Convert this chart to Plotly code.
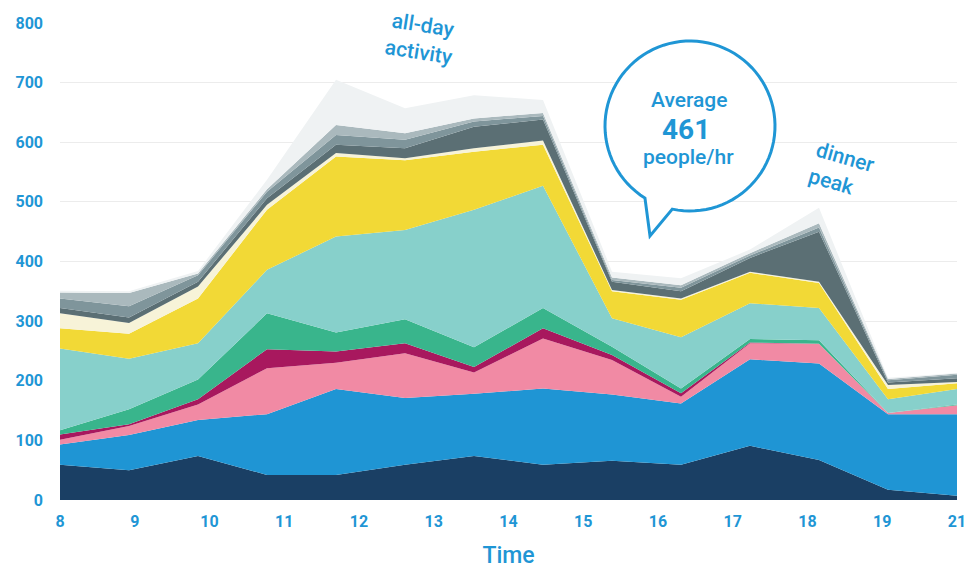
import numpy as np
import plotly.graph_objects as go

# ---- data ----
tick_labels = ["8", "9", "10", "11", "12", "13", "14", "15", "16", "17", "18", "19", "21"]
n_samples = 14
x_pos = list(np.linspace(0, len(tick_labels) - 1, n_samples))

layer_names = ["navy", "blue", "pink", "magenta", "green", "teal", "yellow",
               "cream", "slate", "grey", "lightgrey", "halo"]
navy      = [59, 50, 74, 42, 42, 59, 74, 59, 66, 59, 91, 67, 17, 7]
blue      = [34, 59, 60, 102, 144, 112, 104, 128, 111, 103, 145, 162, 127, 137]
pink      = [8, 15, 26, 77, 44, 75, 36, 84, 58, 11, 27, 33, 2, 15]
magenta   = [9, 3, 9, 32, 19, 17, 9, 17, 8, 6, 1, 0, 0, 0]
green     = [7, 25, 33, 60, 32, 40, 33, 34, 14, 8, 6, 6, 0, 1]
teal      = [137, 85, 61, 73, 161, 150, 231, 205, 48, 86, 60, 54, 23, 26]
yellow    = [34, 42, 75, 101, 134, 117, 97, 69, 45, 63, 51, 42, 17, 10]
cream     = [25, 18, 20, 8, 6, 3, 6, 7, 2, 2, 2, 2, 7, 2]
slate     = [9, 9, 8, 11, 14, 17, 36, 35, 14, 12, 23, 84, 4, 6]
grey      = [16, 19, 11, 11, 16, 14, 9, 6, 3, 6, 4, 7, 4, 6]
lightgrey = [10, 22, 3, 4, 17, 11, 5, 5, 4, 4, 4, 7, 2, 2]
halo      = [3, 3, 4, 16, 76, 42, 39, 22, 10, 12, 6, 26, 2, 1]

series = [navy, blue, pink, magenta, green, teal, yellow, cream, slate, grey, lightgrey, halo]
colors = ["#1a3f64", "#1f95d4", "#f18aa4", "#a8185e", "#39b58c", "#87d0cb", "#f2d936",
          "#f7f3d8", "#5b6f74", "#7f959b", "#aab9bd", "#eff2f3"]

BLUE_TXT = "#1f96d5"
FONT = "Roboto"

fig = go.Figure()
for name, vals, col in zip(layer_names, series, colors):
    fig.add_trace(go.Scatter(
        x=x_pos, y=vals, name=name, stackgroup="one", mode="none",
        fillcolor=col, line=dict(width=0), hoverinfo="skip"))

# ---- geometry helpers (pixel -> paper) ----
L, R, T, B = 60, 957, 23, 500
def px(xp):
    return (xp - L) / (R - L)
def py(yp):
    return (B - yp) / (B - T)

# speech bubble outline
cx, cy, rad = 690, 126, 85
a_start = np.deg2rad(102)
a_end = np.deg2rad(122 - 360)
angles = np.linspace(a_start, a_end, 90)
pts = [(cx + rad * np.cos(a), cy + rad * np.sin(a)) for a in angles]
pts.append((650, 236))
path = "M " + " L ".join(f"{px(x):.5f},{py(y):.5f}" for x, y in pts) + " Z"

fig.add_shape(type="path", path=path, xref="paper", yref="paper",
              line=dict(color=BLUE_TXT, width=3), fillcolor="white", layer="above")

def ann(text, xp, yp, size, angle=0, align="center", weight="normal"):
    fig.add_annotation(text=text, x=px(xp), y=py(yp), xref="paper", yref="paper",
                       showarrow=False, textangle=angle, align=align,
                       xanchor="center", yanchor="middle",
                       font=dict(family=FONT, size=size, color=BLUE_TXT, weight=weight))

ann("Average", 689, 100, 21, weight=500)
ann("461", 686, 129, 28, weight="bold")
ann("people/hr", 688, 157, 21, weight=500)
ann("all-day<br>activity", 421, 38, 21, angle=9, weight=500)
ann("dinner<br>peak", 842, 170, 21, angle=16, align="left", weight=500)

fig.update_layout(
    width=966, height=569,
    margin=dict(l=L, r=966 - R, t=T, b=569 - B),
    paper_bgcolor="white", plot_bgcolor="white",
    showlegend=False,
    template="none",
    font=dict(family=FONT, color=BLUE_TXT),
)
fig.update_xaxes(
    range=[0, len(tick_labels) - 1], tickmode="array",
    tickvals=list(range(len(tick_labels))), ticktext=tick_labels,
    showgrid=False, zeroline=False, showline=False, ticks="",
    tickfont=dict(family=FONT, size=16, color=BLUE_TXT, weight="bold"),
    ticklabelstandoff=10, automargin=False, ticklabeloverflow="allow",
    title=dict(text="Time", font=dict(family=FONT, size=23, color=BLUE_TXT, weight=500), standoff=19),
)
fig.update_yaxes(
    range=[0, 800], tickmode="array", tickvals=list(range(0, 801, 100)),
    showgrid=True, gridcolor="#ececec", gridwidth=1, zeroline=False, showline=False, ticks="",
    tickfont=dict(family=FONT, size=16, color=BLUE_TXT, weight="bold"),
    ticklabelstandoff=16, automargin=False,
)

fig.write_html("out.html", config={"displayModeBar": False},
               post_script="document.body.style.margin='0';document.body.style.overflow='hidden';")
